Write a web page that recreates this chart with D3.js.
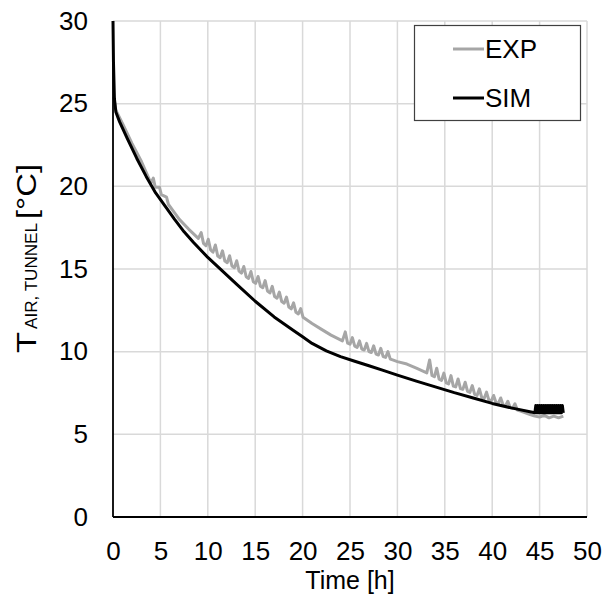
<!DOCTYPE html>
<html><head><meta charset="utf-8">
<script src="https://cdn.jsdelivr.net/npm/d3@7"></script>
<style>
body{margin:0;background:#fff}
text{font-family:"Liberation Sans",Arial,sans-serif;fill:#000}
</style>
</head><body>
<svg id="c" width="608" height="601"></svg>
<script>
// ---- data ----
const xTicks = [0,5,10,15,20,25,30,35,40,45,50];
const yTicks = [0,5,10,15,20,25,30];
const seriesNames = ["EXP","SIM"];

// SIM (black)
const simData = [
 [0,30],[0.05,27.5],[0.15,25.3],[0.3,24.5],[0.7,23.9],[1.5,22.9],[2.5,21.7],[3.5,20.6],
 [4.5,19.6],[5.5,18.8],[6.5,18.0],[7.5,17.25],[8.5,16.6],[10,15.7],[11.5,14.9],[13,14.1],
 [15,13.05],[17,12.1],[19,11.3],[20,10.9],[21,10.5],[22.5,10.05],[24,9.7],[25.5,9.42],
 [27,9.15],[28.5,8.87],[30,8.58],[32,8.22],[34,7.87],[36,7.52],[38,7.2],[40,6.87],[42,6.6],
 [44.5,6.3]
];
// SIM tail: fast oscillation 44.6–47.5 h
const simBand = [
 [44.6,6.75],[44.7,6.3],[44.8,6.75],[44.9,6.3],[45.0,6.75],[45.1,6.3],[45.2,6.75],[45.3,6.3],
 [45.4,6.75],[45.5,6.3],[45.6,6.75],[45.7,6.3],[45.8,6.75],[45.9,6.3],[46.0,6.75],[46.1,6.3],
 [46.2,6.75],[46.3,6.3],[46.4,6.75],[46.5,6.3],[46.6,6.75],[46.7,6.3],[46.8,6.75],[46.9,6.3],
 [47.0,6.75],[47.1,6.3],[47.2,6.75],[47.3,6.3],[47.4,6.75],[47.5,6.3]
];

// EXP (grey)
const expData = [
 [0.08,25.4],[0.3,24.6],[1,23.8],[2,22.6],[3,21.5],[4,20.2],[4.25,20.5],[4.45,19.95],
 [4.9,19.95],[5.1,19.5],[5.65,19.35],[5.85,18.9],[6.5,18.4],[7,18.0],[8,17.4],[9,16.85],
 [9.3,17.2],[9.55,16.55],[9.8,16.41],[10.05,16.8],[10.3,16.15],[10.55,16.02],
 [10.8,16.45],[11.05,15.78],[11.3,15.68],[11.55,16.1],[11.8,15.48],[12.05,15.38],
 [12.3,15.8],[12.55,15.18],[12.8,15.08],[13.05,15.5],[13.3,14.87],[13.55,14.75],
 [13.8,15.15],[14.05,14.53],[14.3,14.43],[14.55,14.85],[14.8,14.23],[15.05,14.13],
 [15.3,14.55],[15.55,13.96],[15.8,13.87],[16.05,14.3],[16.3,13.67],[16.55,13.55],
 [16.8,13.95],[17.05,13.33],[17.3,13.23],[17.55,13.6],[17.8,13.03],[18.05,12.93],
 [18.3,13.3],[18.55,12.7],[18.8,12.59],[19.05,12.95],[19.3,12.38],[19.55,12.28],
 [19.8,12.6],[20.05,12.08],[21,11.7],[22,11.35],[23,11.0],[24.2,10.65],
 [24.5,11.2],[24.75,10.51],[25.0,10.45],[25.25,10.85],[25.5,10.33],[25.75,10.26],
 [26.0,10.65],[26.25,10.15],[26.5,10.1],[26.75,10.5],[27.0,10.0],[27.25,9.95],
 [27.5,10.35],[27.75,9.85],[28.0,9.8],[28.25,10.2],[28.5,9.7],[28.75,9.65],
 [29.0,10.0],[29.25,9.55],[29.5,9.5],[30,9.4],[31,9.25],[32,9.0],[33.1,8.72],
 [33.4,9.5],[33.65,8.56],[33.9,8.48],[34.15,9.0],[34.4,8.33],[34.65,8.26],
 [34.9,8.7],[35.15,8.11],[35.4,8.05],[35.65,8.55],[35.9,7.92],[36.15,7.87],
 [36.4,8.35],[36.65,7.77],[36.9,7.72],[37.15,8.15],[37.4,7.6],[37.65,7.54],
 [37.9,7.95],[38.15,7.41],[38.4,7.35],[38.65,7.75],[38.9,7.22],[39.15,7.17],
 [39.4,7.55],[39.65,7.07],[39.9,7.02],[40.15,7.35],[40.4,6.92],[40.65,6.87],
 [40.9,7.2],[41.15,6.77],[41.4,6.72],[41.65,7.0],[41.9,6.62],[42.15,6.57],
 [42.4,6.85],[42.65,6.47],[43,6.4],[44,6.2],[44.5,6.1],[45,6.05],[45.5,6.15],
 [46,6.0],[46.5,6.1],[47,6.0],[47.5,6.1]
];

// ---- chart ----
const svg = d3.select("#c");
const L=113, R=587, T=21, B=517;
const x = d3.scaleLinear().domain([0,50]).range([L,R]);
const y = d3.scaleLinear().domain([0,30]).range([B,T]);

// gridlines
svg.append("g").selectAll("line").data(xTicks.filter(d=>d>0)).join("line")
  .attr("x1",d=>x(d)).attr("x2",d=>x(d)).attr("y1",y(0)).attr("y2",y(30))
  .attr("stroke","#d9d9d9").attr("stroke-width",1.5);
svg.append("g").selectAll("line").data(yTicks.filter(d=>d>0)).join("line")
  .attr("x1",x(0)).attr("x2",x(50)).attr("y1",d=>y(d)).attr("y2",d=>y(d))
  .attr("stroke","#d9d9d9").attr("stroke-width",1.5);

// axes (tick labels via d3 axes)
const xAxis = svg.append("g").attr("transform",`translate(0,${B})`)
  .call(d3.axisBottom(x).tickValues(xTicks).tickSize(0).tickPadding(25).tickFormat(d3.format("d")));
xAxis.select(".domain").remove();
xAxis.selectAll("text").attr("font-size",26).attr("font-family","Liberation Sans, Arial, sans-serif").attr("fill","#000");
const yAxis = svg.append("g").attr("transform",`translate(${L},0)`)
  .call(d3.axisLeft(y).tickValues(yTicks).tickSize(0).tickPadding(25).tickFormat(d3.format("d")));
yAxis.select(".domain").remove();
yAxis.selectAll("text").attr("font-size",26).attr("font-family","Liberation Sans, Arial, sans-serif").attr("fill","#000");

// series
const line = d3.line().x(d=>x(d[0])).y(d=>y(d[1]));
svg.append("path").datum(expData).attr("d",line).attr("fill","none")
  .attr("stroke","#a6a6a6").attr("stroke-width",3).attr("stroke-linejoin","round");
svg.append("path").datum(simData.concat(simBand)).attr("d",line).attr("fill","none")
  .attr("stroke","#000").attr("stroke-width",3).attr("stroke-linejoin","round");

// axis lines
svg.append("line").attr("x1",x(0)).attr("x2",x(0)).attr("y1",y(0)).attr("y2",y(30))
  .attr("stroke","#000").attr("stroke-width",1.8);
svg.append("line").attr("x1",x(0)).attr("x2",x(50)).attr("y1",y(0)).attr("y2",y(0))
  .attr("stroke","#000").attr("stroke-width",1.8);

// axis titles
svg.append("text").attr("x",(L+R)/2).attr("y",589).attr("text-anchor","middle")
  .attr("font-size",25).text("Time [h]");
const yl = svg.append("g").attr("transform","translate(36,353) rotate(-90)");
yl.append("text").attr("x",0).attr("y",0).attr("font-size",27).attr("textLength",21)
  .attr("lengthAdjust","spacingAndGlyphs").text("T");
yl.append("text").attr("x",24).attr("y",1).attr("font-size",17).attr("textLength",106)
  .attr("lengthAdjust","spacingAndGlyphs").text("AIR, TUNNEL");
yl.append("text").attr("x",134).attr("y",0).attr("font-size",27).attr("textLength",55)
  .attr("lengthAdjust","spacingAndGlyphs").text("[°C]");

// legend
const lg = svg.append("g");
lg.append("rect").attr("x",414.5).attr("y",25.5).attr("width",166).attr("height",95)
  .attr("fill","#fff").attr("stroke","#404040").attr("stroke-width",1.2);
const legItems = [{name:seriesNames[0],color:"#a6a6a6",yy:49},{name:seriesNames[1],color:"#000",yy:98}];
legItems.forEach(it=>{
  lg.append("line").attr("x1",453).attr("x2",484).attr("y1",it.yy).attr("y2",it.yy)
    .attr("stroke",it.color).attr("stroke-width",3);
  lg.append("text").attr("x",485).attr("y",it.yy+9).attr("font-size",26).text(it.name);
});
</script>
</body></html>
